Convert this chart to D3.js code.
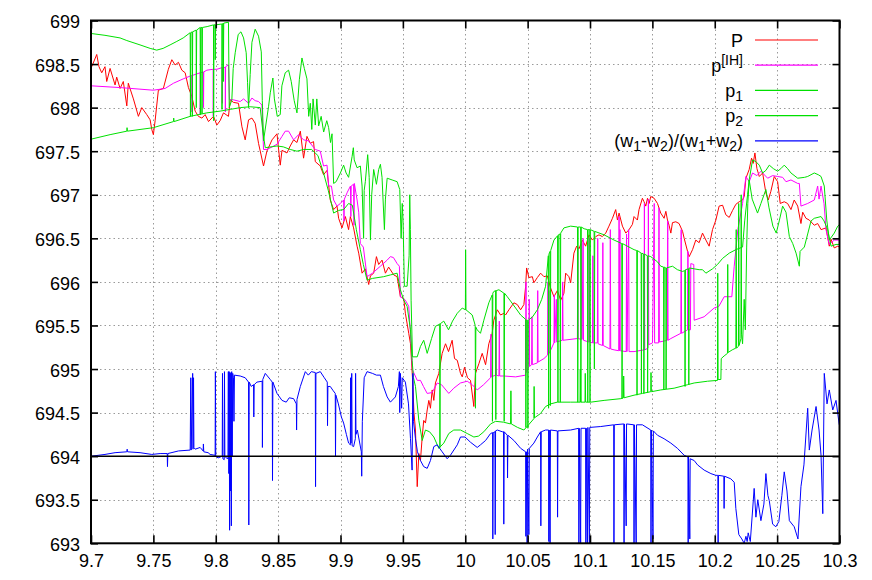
<!DOCTYPE html>
<html>
<head>
<meta charset="utf-8">
<script src="https://cdn.jsdelivr.net/npm/d3@7"></script>
<style>
  html, body { margin: 0; padding: 0; background: #fff; }
  svg { display: block; }
  text { font-family: "Liberation Sans", Arial, Helvetica, sans-serif; }
</style>
</head>
<body>
<svg id="chart" width="872" height="580"></svg>
<script>
// ---------------- data ----------------
const xTicks = [9.7, 9.75, 9.8, 9.85, 9.9, 9.95, 10, 10.05, 10.1, 10.15, 10.2, 10.25, 10.3];
const xTickLabels = ["9.7", "9.75", "9.8", "9.85", "9.9", "9.95", "10", "10.05", "10.1", "10.15", "10.2", "10.25", "10.3"];
const yTicks = [693, 693.5, 694, 694.5, 695, 695.5, 696, 696.5, 697, 697.5, 698, 698.5, 699];
const yTickLabels = ["693", "693.5", "694", "694.5", "695", "695.5", "696", "696.5", "697", "697.5", "698", "698.5", "699"];
const zeroLevel = 694;

// P (red)
const P = [[9.7006,698.47],[9.7046,698.61],[9.7064,698.47],[9.7086,698.40],[9.7112,698.47],[9.7126,698.30],[9.7153,698.45],[9.7193,698.26],[9.7206,698.35],[9.7233,698.22],[9.7259,698.30],[9.7287,698.02],[9.7299,698.28],[9.7340,698.10],[9.7380,697.90],[9.7407,698.00],[9.7447,697.92],[9.7474,697.86],[9.7487,697.75],[9.7500,697.69],[9.7514,697.85],[9.7540,698.20],[9.7580,698.22],[9.7620,698.44],[9.7648,698.55],[9.7674,698.49],[9.7701,698.52],[9.7728,698.43],[9.7755,698.40],[9.7781,698.23],[9.7808,698.13],[9.7835,697.96],[9.7861,697.90],[9.7889,697.88],[9.7915,697.92],[9.7942,697.84],[9.7982,697.90],[9.8009,697.80],[9.8035,697.85],[9.8062,697.94],[9.8102,697.90],[9.8116,698.09],[9.8142,698.06],[9.8182,698.05],[9.8210,697.78],[9.8236,697.63],[9.8263,697.86],[9.8290,697.88],[9.8316,697.82],[9.8343,697.59],[9.8383,697.33],[9.8410,697.50],[9.8451,697.63],[9.8491,697.70],[9.8517,697.34],[9.8531,697.51],[9.8571,697.48],[9.8597,697.56],[9.8624,697.63],[9.8651,697.60],[9.8678,697.73],[9.8704,697.42],[9.8731,697.67],[9.8758,697.59],[9.8784,697.61],[9.8798,697.38],[9.8838,697.33],[9.8864,697.23],[9.8892,697.28],[9.8918,696.94],[9.8945,696.83],[9.8972,696.87],[9.8985,696.73],[9.9012,696.62],[9.9039,696.75],[9.9065,696.60],[9.9079,696.75],[9.9105,696.62],[9.9133,696.41],[9.9146,696.33],[9.9173,696.10],[9.9199,696.15],[9.9226,695.97],[9.9240,696.07],[9.9266,696.10],[9.9288,696.29],[9.9306,696.20],[9.9333,696.25],[9.9360,696.10],[9.9386,696.17],[9.9427,696.08],[9.9454,696.06],[9.9480,695.83],[9.9507,695.81],[9.9520,695.64],[9.9547,695.41],[9.9561,695.29],[9.9577,694.90],[9.9589,694.50],[9.9601,694.30],[9.9615,693.65],[9.9628,694.03],[9.9641,693.95],[9.9655,694.22],[9.9667,694.41],[9.9681,694.38],[9.9695,694.53],[9.9708,694.64],[9.9721,694.55],[9.9735,694.76],[9.9748,694.64],[9.9761,694.84],[9.9788,694.95],[9.9815,695.18],[9.9842,695.29],[9.9866,695.20],[9.9895,695.33],[9.9914,695.12],[9.9936,695.10],[9.9962,694.95],[9.9976,694.91],[9.9994,695.02],[10.0018,694.90],[10.0042,694.87],[10.0069,694.57],[10.0082,694.95],[10.0109,695.06],[10.0136,695.18],[10.0163,695.05],[10.0189,695.29],[10.0216,695.41],[10.0229,695.56],[10.0257,695.68],[10.0283,695.62],[10.0310,695.64],[10.0323,695.62],[10.0350,695.68],[10.0390,695.76],[10.0417,695.74],[10.0444,695.68],[10.0470,695.74],[10.0484,695.95],[10.0492,696.16],[10.0510,696.05],[10.0538,696.06],[10.0550,695.99],[10.0578,696.05],[10.0604,696.10],[10.0631,696.06],[10.0658,696.07],[10.0684,695.93],[10.0711,695.83],[10.0738,695.90],[10.0765,695.79],[10.0791,695.87],[10.0805,696.10],[10.0831,696.06],[10.0845,695.99],[10.0871,696.33],[10.0893,696.41],[10.0912,696.38],[10.0939,696.48],[10.0965,696.41],[10.0992,696.54],[10.1019,696.48],[10.1046,696.52],[10.1072,696.54],[10.1099,696.52],[10.1126,696.56],[10.1152,696.64],[10.1180,696.73],[10.1206,696.83],[10.1220,696.71],[10.1233,696.79],[10.1260,696.64],[10.1287,696.56],[10.1313,696.60],[10.1340,696.66],[10.1353,696.75],[10.1380,696.71],[10.1393,696.83],[10.1420,696.96],[10.1433,696.92],[10.1447,696.87],[10.1461,696.96],[10.1474,696.90],[10.1487,696.98],[10.1514,696.96],[10.1541,696.90],[10.1567,696.79],[10.1594,696.73],[10.1608,696.81],[10.1621,696.71],[10.1634,696.65],[10.1648,696.56],[10.1661,696.68],[10.1688,696.69],[10.1714,696.67],[10.1742,696.58],[10.1755,696.50],[10.1782,696.35],[10.1795,696.29],[10.1822,696.37],[10.1848,696.48],[10.1875,696.45],[10.1902,696.56],[10.1929,696.48],[10.1955,696.41],[10.1982,696.60],[10.2009,696.71],[10.2035,696.87],[10.2063,696.88],[10.2089,696.77],[10.2116,696.74],[10.2143,696.82],[10.2169,696.89],[10.2196,696.92],[10.2223,696.94],[10.2236,696.98],[10.2250,697.19],[10.2276,697.29],[10.2295,697.42],[10.2308,697.36],[10.2322,697.48],[10.2338,697.30],[10.2357,697.21],[10.2384,697.25],[10.2410,697.02],[10.2429,696.94],[10.2450,697.04],[10.2477,697.21],[10.2504,697.15],[10.2525,696.90],[10.2557,696.92],[10.2584,696.90],[10.2611,696.83],[10.2637,696.94],[10.2665,696.87],[10.2691,696.67],[10.2705,696.80],[10.2731,696.73],[10.2758,696.71],[10.2798,696.65],[10.2825,696.67],[10.2852,696.60],[10.2892,696.62],[10.2918,696.41],[10.2932,696.49],[10.2958,696.39],[10.2986,696.41],[10.3000,696.40]];

// p^[IH] (magenta)
const pIH = [[9.7006,698.25],[9.7233,698.23],[9.7500,698.20],[9.7594,698.22],[9.7661,698.28],[9.7739,698.33],[9.7808,698.37],[9.7810,697.95],[9.7813,698.37],[9.7875,698.40],[9.7876,697.92],[9.7878,698.40],[9.7901,698.41],[9.7902,698.00],[9.7904,698.41],[9.7929,698.43],[9.7979,698.44],[9.7980,697.90],[9.7982,698.44],[9.8009,698.44],[9.8052,698.46],[9.8053,698.05],[9.8055,698.46],[9.8076,698.46],[9.8077,697.95],[9.8079,698.47],[9.8102,698.49],[9.8110,698.09],[9.8140,698.09],[9.8196,698.07],[9.8223,698.10],[9.8263,698.05],[9.8290,698.11],[9.8316,698.08],[9.8343,698.07],[9.8370,698.03],[9.8383,697.52],[9.8410,697.52],[9.8453,697.55],[9.8491,697.58],[9.8531,697.67],[9.8557,697.73],[9.8584,697.73],[9.8624,697.63],[9.8664,697.69],[9.8704,697.63],[9.8742,697.62],[9.8798,697.52],[9.8838,697.50],[9.8864,697.33],[9.8892,697.34],[9.8905,697.10],[9.8927,697.10],[9.8945,696.94],[9.8972,696.87],[9.8999,696.90],[9.9025,696.94],[9.9028,696.70],[9.9031,696.95],[9.9055,697.03],[9.9080,697.10],[9.9083,696.75],[9.9086,697.10],[9.9093,697.11],[9.9105,697.12],[9.9108,696.65],[9.9111,697.13],[9.9133,696.94],[9.9146,696.80],[9.9159,696.44],[9.9183,696.40],[9.9213,696.06],[9.9256,696.10],[9.9320,696.18],[9.9374,696.25],[9.9400,696.29],[9.9424,696.28],[9.9454,696.21],[9.9472,696.18],[9.9480,695.83],[9.9520,695.79],[9.9547,695.72],[9.9561,695.40],[9.9577,694.99],[9.9615,694.87],[9.9641,694.87],[9.9665,694.80],[9.9695,694.72],[9.9735,694.73],[9.9775,694.84],[9.9810,694.82],[9.9868,694.72],[9.9908,694.78],[9.9962,694.84],[10.0016,694.86],[10.0056,694.82],[10.0096,694.76],[10.0147,694.82],[10.0203,694.90],[10.0206,695.40],[10.0209,694.91],[10.0243,694.93],[10.0246,695.60],[10.0249,694.93],[10.0270,694.92],[10.0273,695.55],[10.0276,694.92],[10.0310,694.92],[10.0404,694.91],[10.0484,694.93],[10.0487,696.00],[10.0490,694.96],[10.0510,695.03],[10.0513,695.80],[10.0516,695.03],[10.0532,695.05],[10.0535,695.60],[10.0538,695.05],[10.0578,695.07],[10.0581,695.90],[10.0584,695.08],[10.0631,695.12],[10.0660,695.16],[10.0663,696.00],[10.0666,695.17],[10.0670,695.90],[10.0673,695.18],[10.0711,695.30],[10.0714,695.85],[10.0717,695.30],[10.0730,695.80],[10.0733,695.31],[10.0778,695.33],[10.0781,696.00],[10.0784,695.33],[10.0899,695.35],[10.0902,696.40],[10.0905,695.35],[10.0930,695.34],[10.0933,696.45],[10.0936,695.34],[10.0945,696.50],[10.0948,695.33],[10.0990,695.31],[10.0993,696.50],[10.0996,695.31],[10.1020,695.30],[10.1023,696.30],[10.1026,695.30],[10.1059,695.30],[10.1062,696.50],[10.1065,695.29],[10.1100,695.27],[10.1103,696.45],[10.1106,695.27],[10.1160,695.23],[10.1163,696.60],[10.1166,695.23],[10.1193,695.22],[10.1230,695.21],[10.1233,696.75],[10.1236,695.21],[10.1240,696.60],[10.1243,695.21],[10.1290,695.20],[10.1293,696.55],[10.1296,695.20],[10.1310,696.60],[10.1313,695.20],[10.1353,695.20],[10.1433,695.22],[10.1436,696.90],[10.1439,695.22],[10.1465,695.24],[10.1468,696.95],[10.1471,695.28],[10.1501,695.30],[10.1515,696.90],[10.1518,695.30],[10.1550,695.30],[10.1553,696.85],[10.1556,695.31],[10.1620,695.33],[10.1623,696.70],[10.1626,695.33],[10.1648,695.35],[10.1728,695.41],[10.1731,696.60],[10.1734,695.41],[10.1782,695.45],[10.1785,696.35],[10.1788,695.45],[10.1805,695.45],[10.1808,696.21],[10.1832,696.20],[10.1835,695.56],[10.1915,695.60],[10.1995,695.70],[10.2033,695.72],[10.2076,695.83],[10.2137,695.83],[10.2156,696.18],[10.2185,696.60],[10.2223,696.90],[10.2250,697.21],[10.2276,697.15],[10.2303,697.25],[10.2338,697.22],[10.2370,697.27],[10.2424,697.19],[10.2464,697.22],[10.2504,697.21],[10.2544,697.20],[10.2571,697.15],[10.2611,697.17],[10.2665,697.13],[10.2678,697.13],[10.2691,696.87],[10.2745,696.90],[10.2798,696.94],[10.2825,697.10],[10.2836,696.95],[10.2852,697.10],[10.2876,696.90],[10.2892,696.60],[10.2918,696.43],[10.2958,696.48],[10.3000,696.48]];

// p_1 (green)
const p1 = [[9.7006,698.85],[9.7112,698.83],[9.7233,698.80],[9.7287,698.77],[9.7393,698.72],[9.7474,698.68],[9.7527,698.66],[9.7578,698.68],[9.7634,698.72],[9.7688,698.76],[9.7739,698.80],[9.7795,698.86],[9.7797,697.90],[9.7800,698.86],[9.7811,698.87],[9.7812,697.90],[9.7815,698.87],[9.7843,698.89],[9.7844,698.00],[9.7847,698.89],[9.7875,698.92],[9.7877,697.92],[9.7880,698.92],[9.7889,698.92],[9.7890,697.93],[9.7893,698.92],[9.7931,698.93],[9.7982,698.95],[9.7983,697.85],[9.7986,698.95],[9.7995,698.95],[9.7996,698.55],[9.7999,698.95],[9.8049,698.96],[9.8050,697.98],[9.8053,698.96],[9.8060,698.97],[9.8061,698.30],[9.8064,698.97],[9.8102,698.98],[9.8108,698.00],[9.8129,698.09],[9.8140,698.45],[9.8156,698.63],[9.8180,698.84],[9.8202,698.87],[9.8223,698.80],[9.8244,698.63],[9.8255,698.29],[9.8263,698.00],[9.8276,698.38],[9.8290,698.75],[9.8316,698.90],[9.8343,698.82],[9.8365,698.64],[9.8373,698.08],[9.8383,697.62],[9.8423,698.01],[9.8437,698.17],[9.8458,698.34],[9.8470,698.10],[9.8493,697.90],[9.8517,697.92],[9.8530,698.25],[9.8557,698.40],[9.8584,698.43],[9.8605,698.30],[9.8629,698.08],[9.8651,697.94],[9.8670,698.32],[9.8691,698.57],[9.8710,698.45],[9.8731,698.33],[9.8745,697.90],[9.8758,698.05],[9.8770,697.75],[9.8780,698.10],[9.8798,697.80],[9.8810,698.10],[9.8825,697.79],[9.8845,697.90],[9.8865,697.72],[9.8890,697.85],[9.8905,697.77],[9.8920,697.60],[9.8932,697.70],[9.8945,697.13],[9.8965,697.15],[9.8999,697.25],[9.9025,697.34],[9.9045,697.25],[9.9065,697.20],[9.9093,697.44],[9.9103,697.54],[9.9110,697.40],[9.9133,697.31],[9.9159,697.33],[9.9173,697.10],[9.9185,696.50],[9.9190,697.05],[9.9199,697.15],[9.9218,697.46],[9.9230,697.20],[9.9240,696.48],[9.9250,697.00],[9.9266,697.29],[9.9288,697.12],[9.9306,697.29],[9.9320,697.35],[9.9333,697.20],[9.9352,696.60],[9.9360,696.95],[9.9374,697.19],[9.9414,697.17],[9.9454,697.15],[9.9475,697.06],[9.9486,696.50],[9.9495,696.90],[9.9502,696.67],[9.9512,695.95],[9.9534,695.95],[9.9550,696.30],[9.9555,697.00],[9.9560,696.60],[9.9566,695.79],[9.9577,695.14],[9.9615,695.14],[9.9641,695.26],[9.9667,695.33],[9.9695,695.18],[9.9730,695.35],[9.9761,695.49],[9.9788,695.51],[9.9795,695.52],[9.9797,694.10],[9.9800,695.52],[9.9828,695.55],[9.9866,695.45],[9.9898,695.55],[9.9936,695.64],[9.9976,695.70],[10.0001,695.68],[10.0003,696.37],[10.0006,695.68],[10.0056,695.62],[10.0080,695.50],[10.0082,694.55],[10.0085,695.48],[10.0096,695.45],[10.0122,695.41],[10.0149,695.56],[10.0189,695.76],[10.0216,695.85],[10.0218,694.40],[10.0221,695.87],[10.0229,695.89],[10.0243,695.90],[10.0245,694.42],[10.0248,695.90],[10.0270,695.91],[10.0310,695.87],[10.0312,694.40],[10.0315,695.87],[10.0337,695.83],[10.0363,695.78],[10.0404,695.70],[10.0444,695.62],[10.0484,695.57],[10.0486,694.33],[10.0489,695.56],[10.0500,695.56],[10.0502,694.32],[10.0505,695.56],[10.0540,695.60],[10.0578,695.68],[10.0613,695.80],[10.0644,695.95],[10.0666,696.30],[10.0668,694.55],[10.0671,696.32],[10.0680,696.35],[10.0682,694.58],[10.0685,696.36],[10.0711,696.48],[10.0740,696.53],[10.0743,694.62],[10.0746,696.54],[10.0760,696.55],[10.0762,694.62],[10.0765,696.56],[10.0791,696.62],[10.0845,696.64],[10.0900,696.63],[10.0902,694.62],[10.0905,696.63],[10.0925,696.63],[10.0927,694.62],[10.0930,696.63],[10.0953,696.61],[10.0980,696.60],[10.0982,694.62],[10.0985,696.60],[10.0998,696.60],[10.1000,694.62],[10.1003,696.60],[10.1033,696.58],[10.1035,695.00],[10.1038,696.58],[10.1113,696.54],[10.1193,696.48],[10.1255,696.44],[10.1257,694.66],[10.1260,696.44],[10.1273,696.43],[10.1353,696.37],[10.1375,696.36],[10.1377,694.70],[10.1380,696.36],[10.1410,696.33],[10.1412,694.72],[10.1415,696.33],[10.1430,696.32],[10.1432,694.72],[10.1435,696.32],[10.1460,696.30],[10.1462,694.73],[10.1465,696.30],[10.1487,696.29],[10.1541,696.23],[10.1567,696.18],[10.1590,696.17],[10.1592,694.76],[10.1595,696.17],[10.1608,696.16],[10.1610,694.77],[10.1613,696.16],[10.1661,696.18],[10.1701,696.14],[10.1742,696.12],[10.1760,696.13],[10.1762,694.80],[10.1765,696.14],[10.1790,696.15],[10.1792,694.82],[10.1795,696.16],[10.1835,696.15],[10.1875,696.14],[10.1902,696.14],[10.1929,696.10],[10.1982,696.15],[10.2022,696.20],[10.2063,696.27],[10.2116,696.33],[10.2169,696.37],[10.2223,696.40],[10.2240,696.70],[10.2263,697.00],[10.2276,697.17],[10.2303,697.40],[10.2330,697.38],[10.2357,697.34],[10.2384,697.25],[10.2410,697.28],[10.2437,697.34],[10.2470,697.30],[10.2504,697.27],[10.2530,697.30],[10.2557,697.34],[10.2584,697.30],[10.2611,697.25],[10.2665,697.19],[10.2720,697.20],[10.2745,697.21],[10.2798,697.25],[10.2830,697.23],[10.2852,697.21],[10.2878,697.10],[10.2898,696.71],[10.2918,696.48],[10.2958,696.56],[10.2986,696.64],[10.3000,696.66]];

// p_2 (green)
const p2 = [[9.7006,697.64],[9.7153,697.69],[9.7287,697.73],[9.7289,697.77],[9.7292,697.73],[9.7500,697.77],[9.7661,697.84],[9.7663,697.88],[9.7666,697.84],[9.7795,697.90],[9.7929,697.94],[9.8035,697.96],[9.8116,697.98],[9.8196,698.00],[9.8276,698.01],[9.8356,698.00],[9.8380,697.70],[9.8397,697.54],[9.8491,697.56],[9.8541,697.55],[9.8597,697.52],[9.8651,697.50],[9.8704,697.52],[9.8768,697.52],[9.8819,697.45],[9.8864,697.25],[9.8902,697.05],[9.8945,696.79],[9.8983,696.82],[9.9025,696.83],[9.9065,696.90],[9.9095,696.88],[9.9127,696.60],[9.9159,696.37],[9.9183,696.20],[9.9213,696.02],[9.9256,696.04],[9.9346,696.06],[9.9400,696.08],[9.9454,696.10],[9.9480,695.91],[9.9507,695.79],[9.9534,695.72],[9.9561,695.45],[9.9574,695.10],[9.9585,694.90],[9.9601,694.80],[9.9628,694.41],[9.9655,694.18],[9.9681,694.30],[9.9714,694.28],[9.9748,694.22],[9.9788,694.09],[9.9828,694.15],[9.9868,694.26],[9.9908,694.30],[9.9962,694.30],[10.0016,694.26],[10.0069,694.22],[10.0106,694.23],[10.0149,694.28],[10.0203,694.37],[10.0243,694.40],[10.0307,694.39],[10.0363,694.37],[10.0366,694.75],[10.0369,694.37],[10.0419,694.33],[10.0470,694.30],[10.0508,694.36],[10.0550,694.43],[10.0552,694.80],[10.0555,694.44],[10.0604,694.49],[10.0644,694.57],[10.0684,694.60],[10.0738,694.62],[10.0845,694.62],[10.0920,694.62],[10.0922,695.00],[10.0925,694.62],[10.0960,694.62],[10.0962,694.95],[10.0965,694.62],[10.1006,694.62],[10.1113,694.64],[10.1247,694.66],[10.1268,694.67],[10.1270,694.92],[10.1273,694.67],[10.1353,694.70],[10.1420,694.72],[10.1487,694.74],[10.1489,694.96],[10.1492,694.74],[10.1567,694.76],[10.1674,694.78],[10.1782,694.82],[10.1835,694.84],[10.1942,694.86],[10.2022,694.87],[10.2024,696.10],[10.2027,694.88],[10.2049,694.88],[10.2052,695.12],[10.2075,695.15],[10.2102,695.18],[10.2104,696.20],[10.2107,695.19],[10.2140,695.22],[10.2169,695.24],[10.2172,696.60],[10.2175,695.24],[10.2190,695.26],[10.2192,696.90],[10.2195,695.27],[10.2210,695.35],[10.2212,697.00],[10.2215,695.40],[10.2223,695.29],[10.2236,695.80],[10.2245,695.45],[10.2256,696.40],[10.2265,696.90],[10.2276,697.17],[10.2300,696.95],[10.2343,696.79],[10.2370,696.90],[10.2410,697.06],[10.2435,696.85],[10.2466,696.64],[10.2493,696.56],[10.2517,696.70],[10.2544,696.87],[10.2571,696.80],[10.2598,696.52],[10.2625,696.44],[10.2652,696.33],[10.2678,696.18],[10.2684,696.35],[10.2718,696.40],[10.2745,696.55],[10.2772,696.70],[10.2798,696.73],[10.2852,696.75],[10.2876,696.70],[10.2905,696.60],[10.2932,696.41],[10.2972,696.43],[10.3000,696.43]];

// 694 + (w1-w2)/(w1+w2) (blue)
const wRatio = [[9.7006,694.00],[9.7112,694.02],[9.7193,694.04],[9.7287,694.05],[9.7290,694.08],[9.7293,694.05],[9.7393,694.04],[9.7487,694.02],[9.7554,694.03],[9.7611,694.03],[9.7613,693.88],[9.7616,694.03],[9.7701,694.06],[9.7795,694.07],[9.7800,694.90],[9.7803,694.07],[9.7815,694.95],[9.7818,694.08],[9.7822,694.90],[9.7825,694.10],[9.7835,694.08],[9.7875,694.10],[9.7899,694.06],[9.7901,694.14],[9.7904,694.05],[9.7939,694.04],[9.7955,694.02],[9.7995,694.01],[9.7997,694.97],[9.8000,694.00],[9.8019,693.98],[9.8052,694.00],[9.8054,694.95],[9.8057,693.97],[9.8068,693.96],[9.8070,694.97],[9.8073,694.00],[9.8084,693.98],[9.8098,693.97],[9.8100,694.97],[9.8102,694.97],[9.8105,693.80],[9.8108,694.97],[9.8111,693.15],[9.8114,694.95],[9.8118,693.60],[9.8121,694.96],[9.8125,693.20],[9.8128,694.97],[9.8132,694.00],[9.8136,694.95],[9.8142,694.90],[9.8146,694.40],[9.8150,694.93],[9.8196,694.92],[9.8236,694.90],[9.8263,694.85],[9.8265,693.21],[9.8268,694.85],[9.8284,694.80],[9.8303,694.82],[9.8305,694.45],[9.8308,694.82],[9.8330,694.85],[9.8372,694.86],[9.8374,694.10],[9.8377,694.88],[9.8397,694.95],[9.8437,694.88],[9.8453,694.85],[9.8455,693.72],[9.8458,694.85],[9.8491,694.72],[9.8531,694.64],[9.8565,694.62],[9.8589,694.67],[9.8624,694.66],[9.8646,694.60],[9.8648,694.30],[9.8651,694.65],[9.8678,694.80],[9.8718,694.97],[9.8742,694.93],[9.8766,694.97],[9.8798,694.96],[9.8800,693.65],[9.8803,694.95],[9.8838,694.97],[9.8870,694.90],[9.8894,694.85],[9.8896,694.35],[9.8899,694.80],[9.8918,694.80],[9.8942,694.75],[9.8958,694.72],[9.8960,694.00],[9.8963,694.70],[9.8983,694.60],[9.9007,694.45],[9.9025,694.38],[9.9047,694.25],[9.9065,694.15],[9.9079,694.13],[9.9081,694.90],[9.9084,694.15],[9.9090,694.95],[9.9093,694.12],[9.9105,694.11],[9.9119,694.20],[9.9121,694.95],[9.9124,694.25],[9.9135,694.30],[9.9167,694.05],[9.9170,693.77],[9.9175,694.40],[9.9190,694.90],[9.9213,694.97],[9.9256,694.95],[9.9288,694.93],[9.9320,694.93],[9.9344,694.80],[9.9374,694.68],[9.9400,694.62],[9.9440,694.68],[9.9464,694.80],[9.9472,694.97],[9.9475,694.50],[9.9480,694.95],[9.9485,694.80],[9.9490,694.55],[9.9495,694.90],[9.9520,694.85],[9.9545,694.60],[9.9561,694.20],[9.9574,693.84],[9.9580,694.95],[9.9585,694.40],[9.9601,694.20],[9.9617,694.05],[9.9641,693.95],[9.9667,693.88],[9.9695,693.86],[9.9721,693.95],[9.9748,694.11],[9.9775,694.13],[9.9815,694.05],[9.9855,693.97],[9.9881,694.01],[9.9936,694.13],[9.9962,694.22],[9.9998,694.22],[10.0042,694.16],[10.0096,694.10],[10.0122,694.13],[10.0163,694.18],[10.0203,694.26],[10.0219,694.27],[10.0221,693.05],[10.0224,694.27],[10.0238,694.28],[10.0240,693.10],[10.0243,694.29],[10.0257,694.30],[10.0297,694.28],[10.0307,694.28],[10.0309,693.22],[10.0312,694.28],[10.0337,694.24],[10.0339,693.75],[10.0342,694.24],[10.0390,694.18],[10.0444,694.09],[10.0484,694.05],[10.0486,693.08],[10.0490,694.05],[10.0496,693.00],[10.0500,694.08],[10.0510,693.10],[10.0514,694.09],[10.0550,694.15],[10.0578,694.22],[10.0604,694.28],[10.0606,693.20],[10.0609,694.28],[10.0644,694.30],[10.0668,694.30],[10.0670,693.02],[10.0673,694.30],[10.0680,693.00],[10.0683,694.30],[10.0738,694.29],[10.0740,693.30],[10.0743,694.29],[10.0845,694.30],[10.0909,694.32],[10.0911,693.00],[10.0914,694.32],[10.0925,693.00],[10.0928,694.32],[10.0965,694.32],[10.0967,693.00],[10.0970,694.32],[10.0980,693.00],[10.0983,694.33],[10.0995,693.00],[10.0998,694.33],[10.1086,694.34],[10.1190,694.36],[10.1192,693.00],[10.1195,694.36],[10.1271,694.37],[10.1273,693.00],[10.1276,694.37],[10.1290,693.20],[10.1293,694.37],[10.1351,694.36],[10.1353,693.00],[10.1356,694.36],[10.1370,693.00],[10.1373,694.36],[10.1420,694.36],[10.1487,694.30],[10.1489,693.00],[10.1492,694.30],[10.1505,693.05],[10.1508,694.29],[10.1541,694.24],[10.1594,694.20],[10.1648,694.15],[10.1701,694.09],[10.1755,694.01],[10.1785,693.99],[10.1787,693.00],[10.1790,693.99],[10.1800,693.05],[10.1803,693.97],[10.1835,693.95],[10.1862,693.90],[10.1915,693.84],[10.1969,693.80],[10.2009,693.78],[10.2025,693.78],[10.2027,693.00],[10.2030,693.78],[10.2073,693.77],[10.2075,693.40],[10.2078,693.77],[10.2129,693.74],[10.2156,693.70],[10.2169,693.40],[10.2193,693.10],[10.2217,693.05],[10.2236,693.00],[10.2250,693.08],[10.2260,693.02],[10.2268,693.12],[10.2285,693.02],[10.2316,693.63],[10.2330,693.30],[10.2345,693.50],[10.2370,693.26],[10.2394,693.45],[10.2410,693.80],[10.2426,693.55],[10.2437,693.49],[10.2464,693.22],[10.2490,693.19],[10.2514,693.25],[10.2538,693.55],[10.2557,693.82],[10.2579,693.60],[10.2598,693.26],[10.2637,693.19],[10.2667,693.05],[10.2691,693.65],[10.2715,693.90],[10.2745,694.55],[10.2758,694.07],[10.2780,694.30],[10.2812,694.57],[10.2836,694.30],[10.2852,694.01],[10.2866,693.34],[10.2878,694.95],[10.2900,694.60],[10.2918,694.76],[10.2946,694.53],[10.2972,694.64],[10.2998,694.36]];

const seriesNames = ["P", "pIH", "p1", "p2", "w"];
const seriesColors = ["#ff0000", "#ff00ff", "#00e000", "#00e000", "#0000ff"];

// ---------------- layout ----------------
const W = 872, H = 580;
const L = 91, R = 839.5, T = 20.5, B = 543.3;
const svg = d3.select("#chart");
const x = d3.scaleLinear().domain([9.7, 10.3]).range([L, R]);
const y = d3.scaleLinear().domain([693, 699]).range([B, T]);
const FONT = 18;

// grid
const grid = svg.append("g").attr("stroke", "#9a9a9a").attr("stroke-width", 1).attr("stroke-dasharray", "1.5,3");
grid.selectAll("line.gx").data(xTicks.slice(1, -1)).enter().append("line")
  .attr("x1", d => Math.round(x(d)) + 0.5).attr("x2", d => Math.round(x(d)) + 0.5)
  .attr("y1", T).attr("y2", B);
grid.selectAll("line.gy").data(yTicks.slice(1, -1)).enter().append("line")
  .attr("y1", d => Math.round(y(d)) + 0.5).attr("y2", d => Math.round(y(d)) + 0.5)
  .attr("x1", L).attr("x2", R);

// clip
svg.append("defs").append("clipPath").attr("id", "plotclip")
  .append("rect").attr("x", L).attr("y", T).attr("width", R - L).attr("height", B - T);

const line = d3.line().x(d => x(d[0])).y(d => y(d[1]));
const plot = svg.append("g").attr("clip-path", "url(#plotclip)");
const allSeries = [P, pIH, p1, p2, wRatio];
allSeries.forEach((s, i) => {
  plot.append("path").datum(s)
    .attr("fill", "none")
    .attr("stroke", seriesColors[i])
    .attr("stroke-width", 1)
    .attr("stroke-linejoin", "round")
    .attr("d", line);
});
// reference line at 694
plot.append("path").datum([[9.7, zeroLevel], [10.3, zeroLevel]])
  .attr("fill", "none").attr("stroke", "#000").attr("stroke-width", 1.5).attr("d", line);

// axes (ticks inside, mirrored)
const fmtX = d => xTickLabels[xTicks.indexOf(d)];
const fmtY = d => yTickLabels[yTicks.indexOf(d)];
const axB = svg.append("g").attr("transform", `translate(0,${B})`)
  .call(d3.axisBottom(x).tickValues(xTicks).tickFormat(fmtX).tickSize(-8).tickPadding(11));
const axT = svg.append("g").attr("transform", `translate(0,${T})`)
  .call(d3.axisTop(x).tickValues(xTicks).tickFormat("").tickSize(-8));
const axL = svg.append("g").attr("transform", `translate(${L},0)`)
  .call(d3.axisLeft(y).tickValues(yTicks).tickFormat(fmtY).tickSize(-7).tickPadding(11));
const axR = svg.append("g").attr("transform", `translate(${R},0)`)
  .call(d3.axisRight(y).tickValues(yTicks).tickFormat("").tickSize(-7));
[axB, axT, axL, axR].forEach(a => {
  a.select(".domain").remove();
  a.selectAll(".tick line").attr("stroke", "#000").attr("stroke-width", 1.6);
  a.selectAll("text").attr("fill", "#000").style("font-size", FONT + "px")
    .style("font-family", '"Liberation Sans", Arial, Helvetica, sans-serif');
});
axL.selectAll("text").attr("dy", "0.40em");
axB.selectAll("text").attr("dy", "0.71em");

// border
svg.append("rect").attr("x", L).attr("y", T).attr("width", R - L).attr("height", B - T)
  .attr("fill", "none").attr("stroke", "#000").attr("stroke-width", 2);

// legend
const legRows = [
  { parts: [["P", 0]] },
  { parts: [["p", 0], ["[IH]", 1]] },
  { parts: [["p", 0], ["1", -1]] },
  { parts: [["p", 0], ["2", -1]] },
  { parts: [["(w", 0], ["1", -1], ["-w", 0], ["2", -1], [")/(w", 0], ["1", -1], ["+w", 0], ["2", -1], [")", 0]] }
];
const legX = 743, legY0 = 40, legDy = 25.2, legL1 = 755, legL2 = 818;
legRows.forEach((row, i) => {
  const cy = legY0 + i * legDy;
  const t = svg.append("text").attr("x", legX).attr("y", cy + 6.5)
    .attr("text-anchor", "end").style("font-size", FONT + "px").attr("fill", "#000");
  row.parts.forEach(([s, k]) => {
    const ts = t.append("tspan").text(s);
    if (k === 1) ts.style("font-size", "14px").attr("baseline-shift", "7px");
    else if (k === -1) ts.style("font-size", "14px").attr("baseline-shift", "-4px");
  });
  svg.append("line").attr("x1", legL1).attr("x2", legL2).attr("y1", cy).attr("y2", cy)
    .attr("stroke", seriesColors[i]).attr("stroke-width", 1.2);
});
</script>
</body>
</html>
